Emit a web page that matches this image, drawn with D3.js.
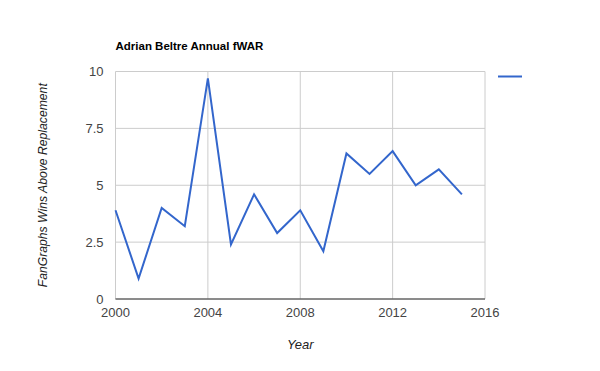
<!DOCTYPE html>
<html>
<head>
<meta charset="utf-8">
<script src="https://cdn.jsdelivr.net/npm/d3@7"></script>
<style>
  body { margin: 0; background: #fff; }
  text { font-family: Arial, "Liberation Sans", sans-serif; }
</style>
</head>
<body>
<div id="chart"></div>
<script>
let years = [2000, 2001, 2002, 2003, 2004, 2005, 2006, 2007, 2008, 2009, 2010, 2011, 2012, 2013, 2014, 2015]
let fwar = [3.9, 0.9, 4.0, 3.2, 9.7, 2.4, 4.6, 2.9, 3.9, 2.1, 6.4, 5.5, 6.5, 5.0, 5.7, 4.6]
let xTicks = [2000, 2004, 2008, 2012, 2016]
let yTicks = [0, 2.5, 5, 7.5, 10]

var width = 600,
    height = 371

let margin = {
  'top' : 71.5,
  'right' : 115,
  'bottom' : 72,
  'left' : 115.5
}

var svg = d3.select('#chart').append('svg')
    .attr('width', width)
    .attr('height', height)

let x = d3.scaleLinear()
    .domain([2000, 2016])
    .range([margin.left, width - margin.right])

let y = d3.scaleLinear()
    .domain([0, 10])
    .range([height - margin.bottom, margin.top])

// gridlines
svg.append('g')
    .selectAll('line')
    .data(yTicks)
    .enter().append('line')
    .attr('x1', x(2000))
    .attr('x2', x(2016))
    .attr('y1', d => y(d))
    .attr('y2', d => y(d))
    .attr('stroke', '#ccc')

svg.append('g')
    .selectAll('line')
    .data(xTicks)
    .enter().append('line')
    .attr('x1', d => x(d))
    .attr('x2', d => x(d))
    .attr('y1', y(0))
    .attr('y2', y(10))
    .attr('stroke', '#ccc')

// baseline
svg.append('line')
    .attr('x1', x(2000))
    .attr('x2', x(2016))
    .attr('y1', y(0))
    .attr('y2', y(0))
    .attr('stroke', '#333')

// tick labels
svg.append('g')
    .selectAll('text')
    .data(yTicks)
    .enter().append('text')
    .attr('x', x(2000) - 12)
    .attr('y', d => y(d) + 4.5)
    .attr('text-anchor', 'end')
    .attr('font-size', 13)
    .attr('fill', '#444')
    .text(d => d)

svg.append('g')
    .selectAll('text')
    .data(xTicks)
    .enter().append('text')
    .attr('x', d => x(d))
    .attr('y', y(0) + 18)
    .attr('text-anchor', 'middle')
    .attr('font-size', 13)
    .attr('fill', '#444')
    .text(d => d)

// line
let line = d3.line()
    .x((d, i) => x(years[i]))
    .y(d => y(d))

svg.append('path')
    .datum(fwar)
    .attr('d', line)
    .attr('fill', 'none')
    .attr('stroke', '#3366cc')
    .attr('stroke-width', 2)

// titles
svg.append('text')
    .attr('x', margin.left)
    .attr('y', 50)
    .attr('font-size', 11.5)
    .attr('font-weight', 'bold')
    .attr('fill', '#000')
    .text('Adrian Beltre Annual fWAR')

svg.append('text')
    .attr('x', (x(2000) + x(2016)) / 2)
    .attr('y', 349)
    .attr('text-anchor', 'middle')
    .attr('font-size', 13)
    .attr('font-style', 'italic')
    .attr('fill', '#222')
    .text('Year')

svg.append('text')
    .attr('transform', 'translate(47,' + (y(5)) + ') rotate(-90)')
    .attr('text-anchor', 'middle')
    .attr('font-size', 12.2)
    .attr('font-style', 'italic')
    .attr('fill', '#222')
    .text('FanGraphs Wins Above Replacement')

// legend (no label)
svg.append('line')
    .attr('x1', 498)
    .attr('x2', 522)
    .attr('y1', 76.5)
    .attr('y2', 76.5)
    .attr('stroke', '#3366cc')
    .attr('stroke-width', 2)
</script>
</body>
</html>
